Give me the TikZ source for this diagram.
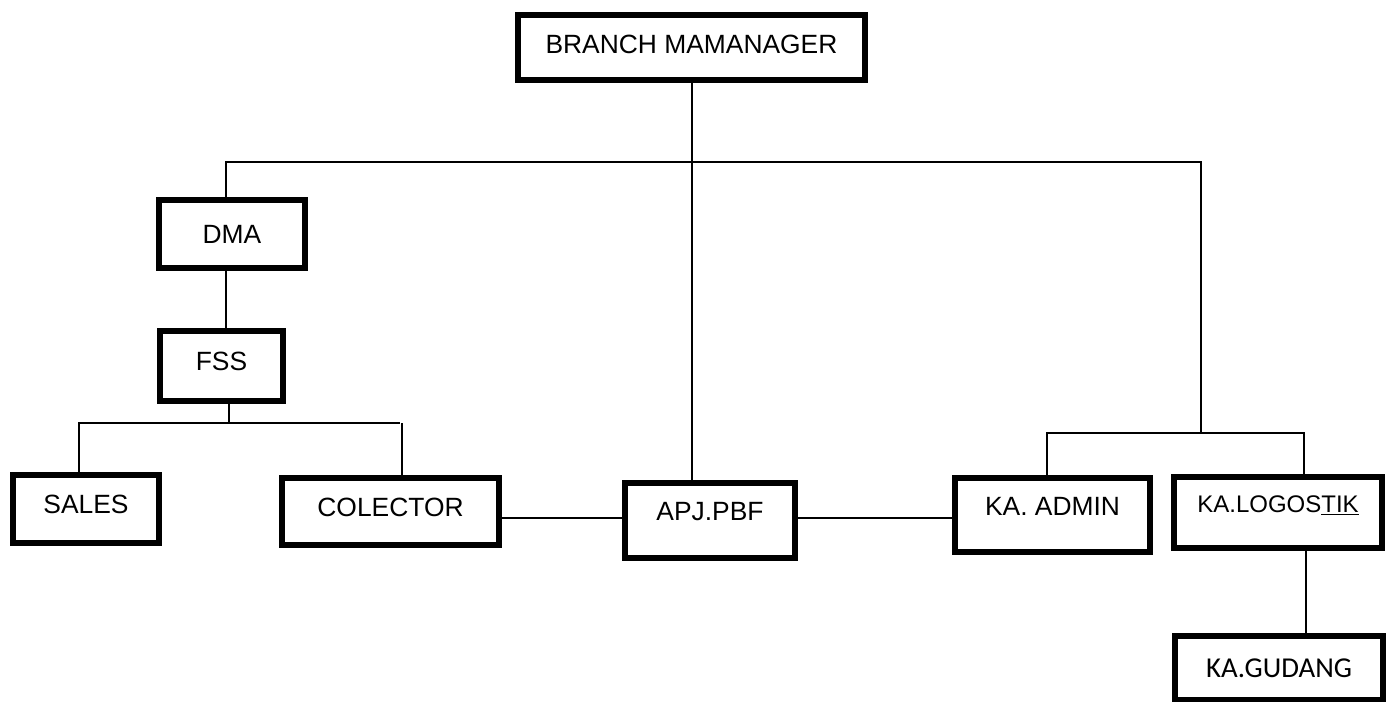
\documentclass[tikz,border=0pt]{standalone}
\usepackage{fontspec}
\setmainfont{Liberation Sans}
\newfontfamily\gudangfont{Carlito}

\tikzset{
  unit/.style={draw, line width=4.4pt, inner sep=0pt, font=\fontsize{19.8}{24}\selectfont, text height=14.2pt, text depth=0pt},
  boxsize/.style 2 args={minimum width=#1*0.75pt, minimum height=#2*0.75pt},
  lift/.style={text depth=#1*1.5pt},
  link/.style={line width=1.2pt},
}

\begin{document}
\begin{tikzpicture}[x=0.75pt,y=0.75pt,yscale=-1,xscale=1]
\useasboundingbox (0,0) rectangle (1387,702);

%Shape: Rectangle [branch]
\node[unit, boxsize={347}{65}, lift=3.5] (branch) at (691.5,47.5) {BRANCH MAMANAGER};
%Shape: Rectangle [dma]
\node[unit, boxsize={146}{68}] (dma) at (232,234) {DMA};
%Shape: Rectangle [fss]
\node[unit, boxsize={123}{70}, lift=5] (fss) at (221.5,366) {FSS};
%Shape: Rectangle [sales]
\node[unit, boxsize={146}{68}, lift=5] (sales) at (86,509) {SALES};
%Shape: Rectangle [colector]
\node[unit, boxsize={217}{67}, lift=4.5] (colector) at (390.5,511.5) {COLECTOR};
%Shape: Rectangle [apj]
\node[unit, boxsize={170}{75}, lift=9] (apj) at (710,520.5) {APJ.PBF};
%Shape: Rectangle [admin]
\node[unit, boxsize={195}{74}, lift=8.5] (admin) at (1052.5,515) {KA. ADMIN};
%Shape: Rectangle [logistik]
\node[unit, boxsize={208}{71}, font=\fontsize{18}{22}\selectfont, text height=12.9pt, lift=9] (logistik) at (1278,512.5) {KA.LOGOS\underline{TIK}};
%Shape: Rectangle [gudang]
\node[unit, boxsize={208}{64}, font=\gudangfont\fontsize{21.6}{26}\selectfont, text height=13.9pt] (gudang) at (1279,668) {KA.GUDANG};

%Straight Lines [branch - apj]
\draw[link] (692,0 |- branch.south) -- (692,0 |- apj.north) ;
%Straight Lines [top bar]
\draw[link] (226,0 |- dma.north) -- (226,162) -- (1201,162) -- (1201,433) ;
%Straight Lines [dma - fss]
\draw[link] (226,0 |- dma.south) -- (226,0 |- fss.north) ;
%Straight Lines [fss bar]
\draw[link] (229,0 |- fss.south) -- (229,423) ;
\draw[link] (79,0 |- sales.north) -- (79,423) -- (400,423) ;
\draw[link] (402,423) -- (402,0 |- colector.north) ;
%Straight Lines [colector - apj - admin]
\draw[link] (colector.east |- 0,518) -- (apj.west |- 0,518) ;
\draw[link] (apj.east |- 0,518) -- (admin.west |- 0,518) ;
%Straight Lines [admin bar]
\draw[link] (1047,0 |- admin.north) -- (1047,433) -- (1304,433) -- (1304,0 |- logistik.north) ;
%Straight Lines [logistik - gudang]
\draw[link] (1306,0 |- logistik.south) -- (1306,0 |- gudang.north) ;

\end{tikzpicture}
\end{document}
